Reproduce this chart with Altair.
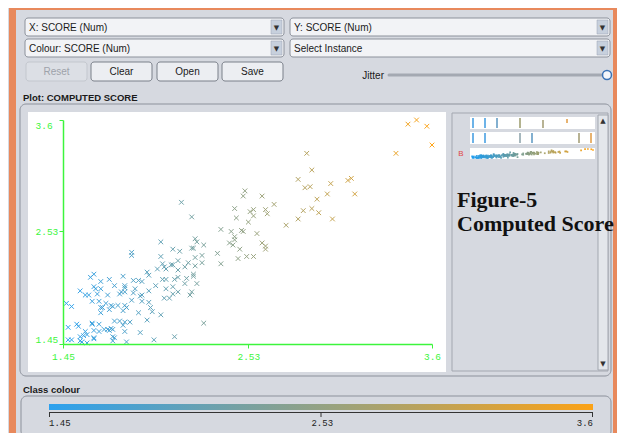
import altair as alt
import pandas as pd

# ---- data (SCORE vs SCORE, jittered) ----
score_x = [3.46, 3.51, 3.57, 3.60, 3.39,
           2.87, 2.90, 2.82, 2.86, 2.89, 3.01, 3.11, 3.13, 3.15, 2.93, 2.99, 2.85, 2.90, 2.94, 2.82, 2.75, 3.02,
           2.51, 2.50, 2.61, 2.68, 2.45, 2.54, 2.56, 2.63, 2.64, 2.56, 2.46, 2.53, 2.37, 2.43, 2.49, 2.50, 2.58,
           2.45, 2.45, 2.42, 2.44, 2.61, 2.63, 2.63, 2.48, 2.35, 2.37, 2.47, 2.52, 2.56,
           2.14, 2.20,
           2.02, 2.22, 2.23, 2.27, 2.09, 2.13, 2.20, 2.21, 2.02, 2.12, 2.22, 2.26, 2.18, 2.22, 2.26, 2.03, 2.04,
           2.05, 2.08, 2.09, 2.00, 2.12, 2.16, 2.12, 2.17, 2.21, 2.21, 2.16, 2.23, 2.03, 2.05, 2.10, 2.05, 2.09,
           2.12, 2.04, 2.07, 2.09, 2.19, 2.20, 2.02, 2.27, 2.10,
           1.85, 1.85, 1.94, 1.95, 1.80, 1.72, 1.61, 1.63, 1.67, 1.63, 1.64, 1.67, 1.75, 1.81, 1.81, 1.86, 1.89,
           1.91, 1.99, 1.87, 1.86, 1.95, 1.55, 1.58, 1.60, 1.65, 1.71, 1.78, 1.79, 1.81, 1.90, 1.91, 1.62, 1.66,
           1.70, 1.67, 1.68, 1.73, 1.74, 1.77, 1.81, 1.82, 1.80, 1.72, 1.67, 1.47, 1.50, 1.85, 1.91, 1.95, 1.96,
           1.97, 1.89, 1.75, 1.78, 1.81, 1.84, 1.80, 1.94, 1.66, 1.62, 1.62, 1.53, 1.54, 1.48, 1.69, 1.71, 1.73,
           1.72, 1.74, 1.63, 1.66, 1.58, 1.59, 1.63, 1.63, 1.55, 1.57, 1.74, 1.75, 1.81, 1.90, 1.48, 1.50, 1.55,
           1.56, 1.59, 1.74, 1.82, 1.98]
score_y = [3.56, 3.60, 3.54, 3.36, 3.28,
           3.28, 3.12, 3.03, 2.95, 2.96, 2.99, 3.02, 3.04, 2.89, 2.84, 2.89, 2.73, 2.75, 2.71, 2.65, 2.59, 2.65,
           2.92, 2.87, 2.87, 2.79, 2.75, 2.72, 2.74, 2.74, 2.70, 2.68, 2.66, 2.62, 2.55, 2.53, 2.54, 2.53, 2.51,
           2.48, 2.45, 2.42, 2.40, 2.42, 2.39, 2.36, 2.36, 2.32, 2.22, 2.27, 2.29, 2.29,
           2.81, 2.67,
           2.43, 2.46, 2.43, 2.40, 2.36, 2.34, 2.37, 2.37, 2.29, 2.25, 2.28, 2.30, 2.23, 2.20, 2.23, 2.22, 2.19,
           2.17, 2.21, 2.21, 2.17, 2.16, 2.19, 2.09, 2.08, 2.12, 2.10, 2.03, 2.03, 2.07, 2.07, 2.07, 1.98, 2.00,
           1.95, 1.89, 1.89, 1.93, 1.92, 1.95, 1.73, 1.65, 1.52,
           2.33, 2.30, 2.14, 2.11, 2.10, 2.07, 2.09, 2.12, 2.05, 2.00, 1.98, 1.98, 2.01, 2.01, 1.99, 2.06, 2.06,
           2.05, 2.01, 1.98, 1.94, 1.96, 1.96, 1.92, 1.92, 1.93, 1.92, 1.93, 1.95, 1.95, 1.91, 1.92, 1.86, 1.86,
           1.84, 1.80, 1.80, 1.82, 1.81, 1.82, 1.82, 1.80, 1.77, 1.78, 1.75, 1.84, 1.81, 1.87, 1.86, 1.85, 1.80,
           1.76, 1.75, 1.67, 1.67, 1.66, 1.66, 1.63, 1.68, 1.64, 1.65, 1.64, 1.64, 1.62, 1.61, 1.59, 1.59, 1.60,
           1.58, 1.59, 1.58, 1.57, 1.57, 1.54, 1.51, 1.50, 1.52, 1.53, 1.52, 1.51, 1.57, 1.56, 1.49, 1.49, 1.48,
           1.47, 1.46, 1.48, 1.47, 1.49]
tick_values = [1.45, 2.53, 3.6]
colour_range = ["#1a9bf0", "#ff9c00"]

# ---- layout helpers (screen pixels -> plot-area offsets) ----
OX, OY = 63, 120
BG = "#d6d9e0"
EMPTY = alt.Data(values=[{}])


def R(x0, y0, x1, y1, **kw):
    return alt.Chart(EMPTY).mark_rect(**kw).encode(
        x=alt.value(x0 - OX), x2=alt.value(x1 - OX),
        y=alt.value(y0 - OY), y2=alt.value(y1 - OY))


def L(x0, y0, x1, y1, **kw):
    return alt.Chart(EMPTY).mark_rule(**kw).encode(
        x=alt.value(x0 - OX), x2=alt.value(x1 - OX),
        y=alt.value(y0 - OY), y2=alt.value(y1 - OY))


def T(x, y, s, **kw):
    base = dict(font="Liberation Sans", fontSize=10, color="#1a1a1a",
                align="left", baseline="middle")
    base.update(kw)
    return alt.Chart(EMPTY).mark_text(text=s, **base).encode(
        x=alt.value(x - OX), y=alt.value(y - OY))


ORANGE = "#e8895c"
BORDER = "#8c919b"
layers = []
# frame
layers += [R(10, 8, 625, 10, color=ORANGE), R(9, 8, 16, 441, color=ORANGE),
           R(613, 8, 618, 441, color=ORANGE)]
# dropdowns
for (x0, y0, x1, y1, label) in [(25, 18, 284, 36, "X: SCORE (Num)"),
                                (290, 18, 610, 36, "Y: SCORE (Num)"),
                                (25, 39, 284, 57, "Colour: SCORE (Num)"),
                                (290, 39, 610, 57, "Select Instance")]:
    layers.append(R(x0, y0, x1, y1, fill="#f2f3f6", stroke=BORDER, strokeWidth=1, cornerRadius=3))
    layers.append(R(x1 - 13, y0 + 2, x1 - 2, y1 - 2, fill="#c7d0dd", stroke="#9aa3b0", strokeWidth=0.5))
    layers.append(T(x1 - 7.5, (y0 + y1) / 2 + 0.5, "▼", font="DejaVu Sans", fontSize=7, align="center",
                    color="#333"))
    layers.append(T(x0 + 4, (y0 + y1) / 2 + 0.5, label, fontSize=10))
# buttons
layers.append(R(26, 62, 87, 81, fill="#dcdfe5", stroke="#c3c7ce", strokeWidth=1, cornerRadius=3))
layers.append(T(56.5, 71.5, "Reset", align="center", color="#9ea2aa"))
for (x0, x1, label) in [(91, 152, "Clear"), (157, 218, "Open"), (222, 283, "Save")]:
    layers.append(R(x0, 62, x1, 81, fill="#eceef2", stroke="#7b808a", strokeWidth=1, cornerRadius=3))
    layers.append(T((x0 + x1) / 2, 71.5, label, align="center"))
# jitter slider
layers.append(T(384, 75.5, "Jitter", align="right"))
layers.append(L(389, 75, 604, 75, color="#a4a9b2", strokeWidth=3, strokeCap="round"))
layers.append(alt.Chart(EMPTY).mark_point(filled=True, fill="#f4f6fa", stroke="#3a72b5",
                                          strokeWidth=1.5, size=80, opacity=1).encode(
    x=alt.value(607 - OX), y=alt.value(75 - OY)))
# plot panel
layers.append(T(23, 98, "Plot: COMPUTED SCORE", fontWeight="bold", fontSize=9.5))
layers.append(R(20, 104, 611, 376, fillOpacity=0, stroke=BORDER, strokeWidth=1, cornerRadius=6))
layers.append(R(28, 112, 446, 372, color="white"))
# attribute panel
layers.append(R(452, 113, 608, 371, fill=BG, stroke="#a3a7b0", strokeWidth=1))
for (y0, y1) in [(117, 129), (132, 144), (148, 159)]:
    layers.append(R(470, y0, 595, y1, color="white"))
# small attribute strips (other attributes, decorative)
for (sx, y0, y1, c) in [(473, 118, 128, "#3d9ae0"), (485, 118, 128, "#3d9ae0"), (497, 118, 128, "#5a96c0"),
                        (520, 118, 128, "#9a9a6a"), (543, 120, 128, "#a09a70"), (567, 119, 123, "#e09a40"),
                        (473, 133, 143, "#3d9ae0"), (485, 133, 143, "#3d9ae0"), (520, 133, 143, "#8aa0a8"),
                        (532, 133, 143, "#5a96c0"), (579, 133, 143, "#a09a70"), (591, 133, 143, "#e09a40")]:
    layers.append(L(sx, y0, sx, y1, color=c, strokeWidth=1.5))
layers.append(T(461, 154, "B", color="#e04848", fontSize=8, align="center"))
layers.append(R(598, 115, 608, 370, fill="#e3e6eb", stroke="#a3a7b0", strokeWidth=1))
layers.append(T(603, 121, "▲", font="DejaVu Sans", fontSize=7, align="center", color="#333"))
layers.append(T(603, 364, "▼", font="DejaVu Sans", fontSize=7, align="center", color="#333"))
layers.append(T(457, 207, "Figure-5", font="Liberation Serif", fontSize=22, fontWeight="bold",
                baseline="alphabetic", color="#111"))
layers.append(T(457, 231, "Computed Score", font="Liberation Serif", fontSize=22, fontWeight="bold",
                baseline="alphabetic", color="#111"))
# colour panel
layers.append(T(23, 390, "Class colour", fontWeight="bold", fontSize=9.5))
layers.append(R(21, 396, 611, 437, fillOpacity=0, stroke=BORDER, strokeWidth=1, cornerRadius=6))
layers.append(L(49, 412.5, 593, 412.5, color="#333", strokeWidth=1))
for tx in [49.5, 321, 592.5]:
    layers.append(L(tx, 412, tx, 417, color="#333", strokeWidth=1))

GREEN = "#3cf53c"
axis_style = dict(values=tick_values, format=".3~g", zindex=1, domainColor=GREEN,
                  tickColor=GREEN, labelColor=GREEN, labelFont="Liberation Mono",
                  labelFontSize=9.5, tickSize=4, grid=False, domainWidth=1.5)
df = pd.DataFrame({"x": score_x, "y": score_y})
points = alt.Chart(df).mark_point(
    shape="M-1,-1L1,1M-1,1L1,-1", filled=False, size=22, strokeWidth=1, opacity=0.9
).encode(
    x=alt.X("x:Q", title=None,
            scale=alt.Scale(domain=[1.45, 3.6], nice=False, zero=False),
            axis=alt.Axis(labelFlush=False, labelPadding=3, labelAlign="center", **axis_style)),
    y=alt.Y("y:Q", title=None,
            scale=alt.Scale(domain=[1.45, 3.6], nice=False, zero=False),
            axis=alt.Axis(labelFlush=True, labelAlign="left", labelPadding=24, **axis_style)),
    color=alt.Color("x:Q", title=None,
                    scale=alt.Scale(domain=[1.45, 3.6], range=colour_range, interpolate="rgb"),
                    legend=alt.Legend(orient="none", legendX=49 - OX, legendY=404 - OY,
                                      direction="horizontal", gradientLength=544,
                                      gradientThickness=6, gradientStrokeWidth=0,
                                      values=tick_values, format=".3~g",
                                      labelFont="Liberation Mono", labelFontSize=9,
                                      labelColor="#222", labelAlign="center", labelOffset=9,
                                      labelOverlap=False, padding=0)),
)

# mini strip "B": the same SCORE values in the attribute panel
strip = alt.Chart(df).mark_square(size=3, opacity=0.9).encode(
    x=alt.X("x:Q", scale=alt.Scale(domain=[1.45, 3.6], range=[471 - OX, 593 - OX]), axis=None),
    y=alt.Y("y:Q", scale=alt.Scale(domain=[1.45, 3.6], range=[158 - OY, 149 - OY]), axis=None),
    color=alt.Color("x:Q",
                    scale=alt.Scale(domain=[1.45, 3.6], range=colour_range, interpolate="rgb"),
                    legend=None),
)

chart = alt.layer(*layers, points, strip).resolve_scale(
    x="independent", y="independent", color="independent"
).resolve_legend(color="independent").properties(
    width=369, height=224,
    autosize=alt.AutoSizeParams(type="none"),
    padding={"left": 55, "top": 112, "right": 185, "bottom": 89},
    background=BG,
).configure_view(strokeWidth=0)

chart.save("out.html", embed_options={"renderer": "svg", "actions": False})
